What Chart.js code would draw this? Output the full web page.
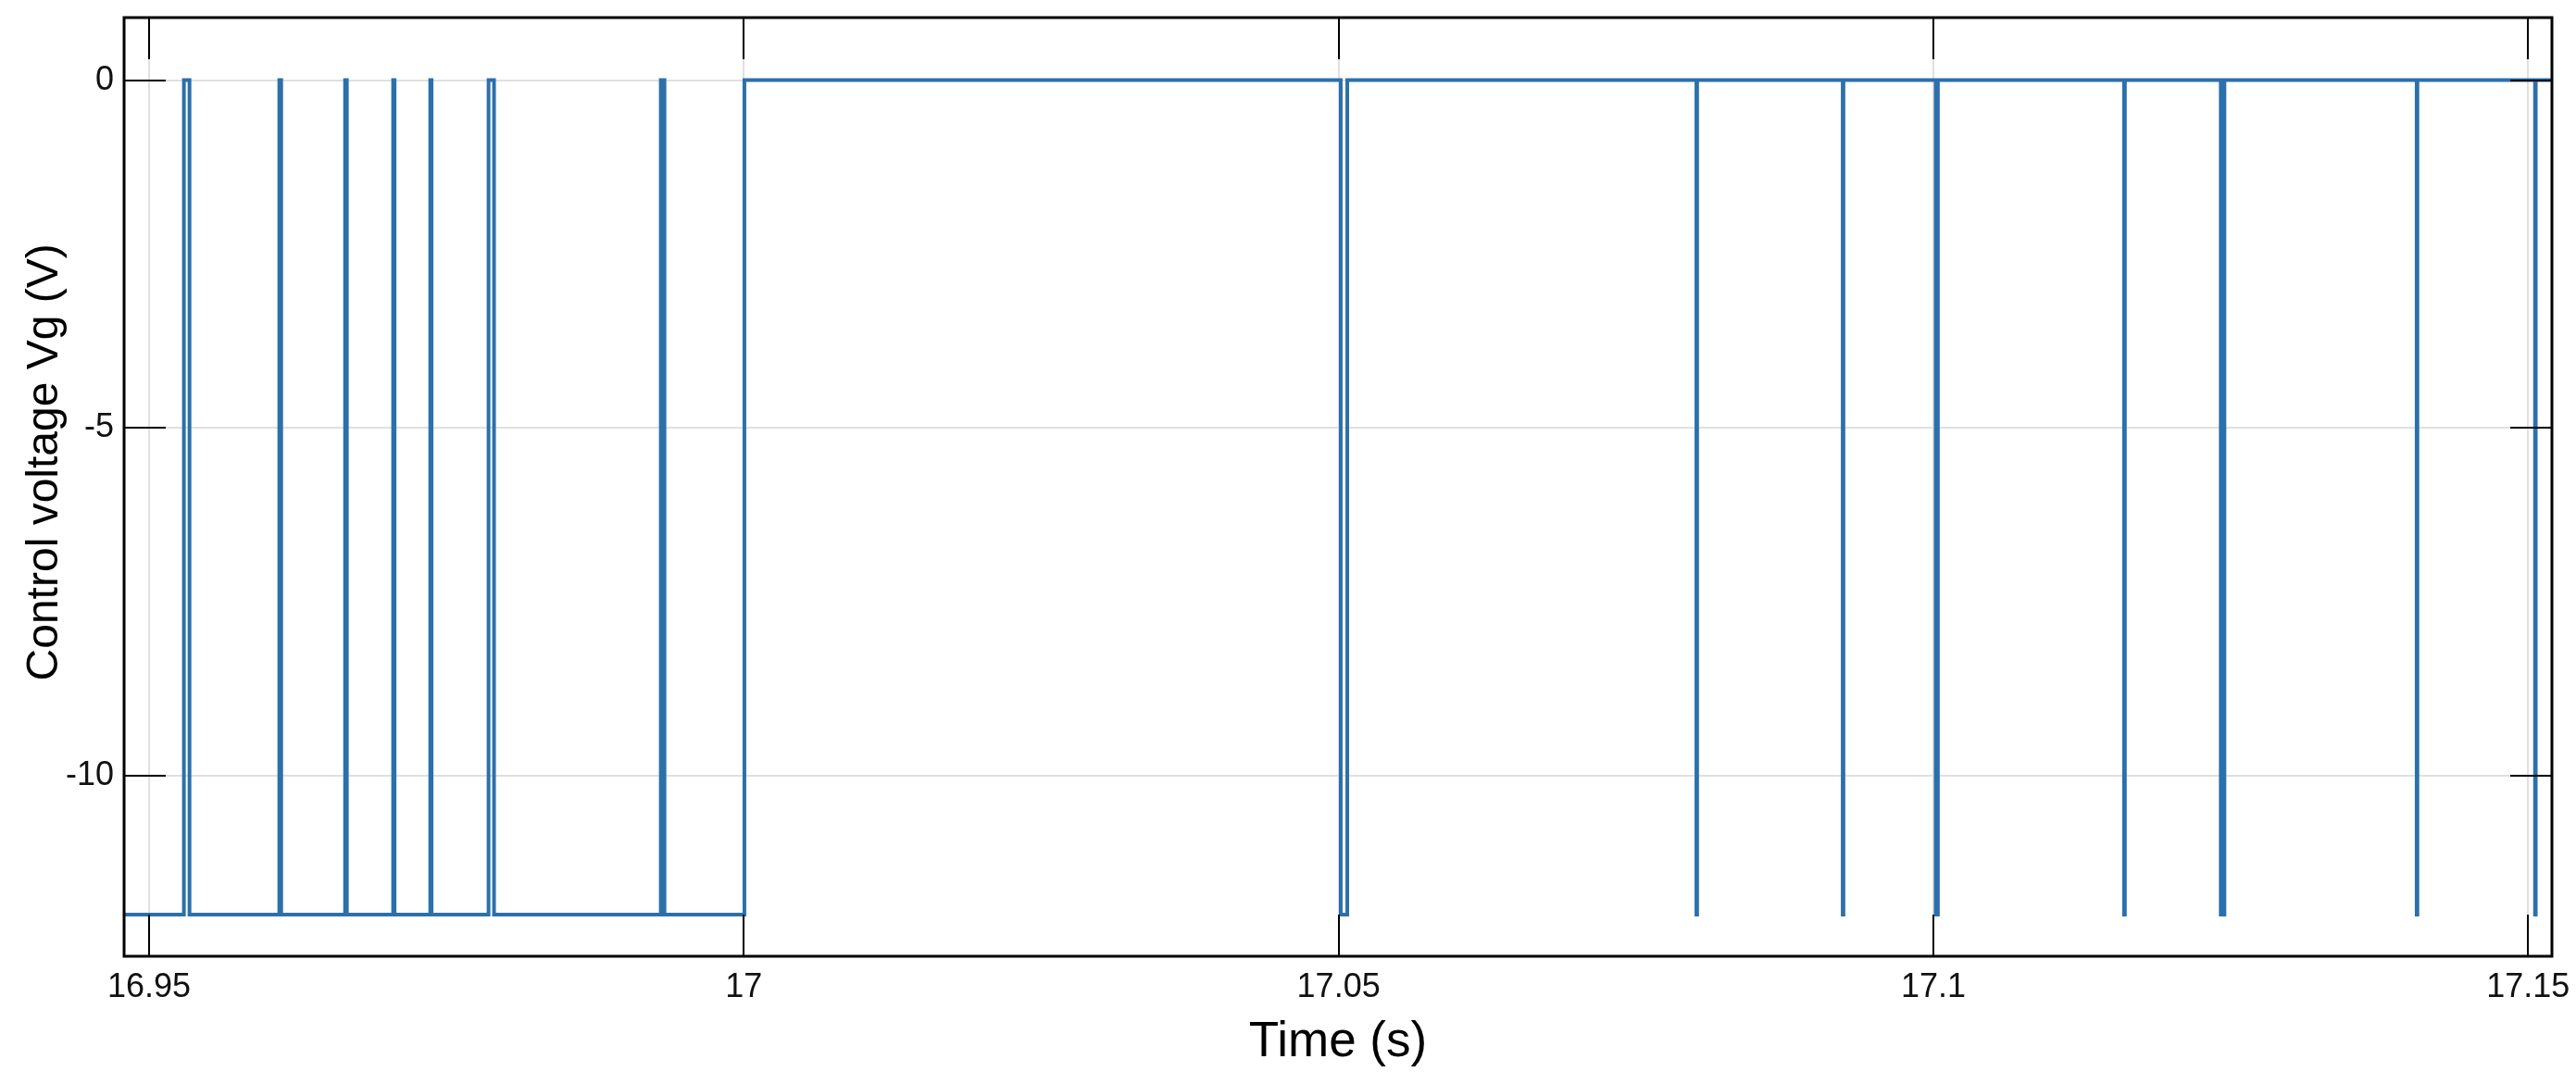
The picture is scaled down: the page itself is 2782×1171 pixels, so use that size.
<!DOCTYPE html>
<html>
<head>
<meta charset="utf-8">
<title>Control voltage Vg</title>
<script src="https://cdn.jsdelivr.net/npm/chart.js@4.4.1/dist/chart.umd.min.js"></script>
<style>
  html, body { margin: 0; padding: 0; background: #fff; }
  #chartBox { width: 2782px; height: 1171px; }
</style>
</head>
<body>
<div id="chartBox"><canvas id="chart"></canvas></div>
<script>
// Gate signal: instants (s) where Vg switches, and the level (V) it switches to
const edgeTimes = [
  16.95293, 16.95340, 16.96095, 16.96111, 16.96648, 16.96663,
  16.97052, 16.97064, 16.97364, 16.97375, 16.97854, 16.97900,
  16.99302, 16.99333, 17.00005,
  17.05018, 17.05073, 17.08008, 17.08014, 17.09238, 17.09244,
  17.10020, 17.10038, 17.11603, 17.11610, 17.12416, 17.12447,
  17.14063, 17.14069, 17.15058, 17.15064
];
const edgeLevels = [
  0, -12, 0, -12, 0, -12,
  0, -12, 0, -12, 0, -12,
  0, -12, 0,
  -12, 0, -12, 0, -12, 0,
  -12, 0, -12, 0, -12, 0,
  -12, 0, -12, 0
];
const startTime = 16.9479;
const endTime = 17.1520;
const startLevel = -12;

const xTickValues = [16.95, 17, 17.05, 17.1, 17.15];
const xTickLabels = ["16.95", "17", "17.05", "17.1", "17.15"];
const yTickValues = [-10, -5, 0];
const yTickLabels = ["-10", "-5", "0"];

const fontFamily = "'Liberation Sans', Arial, Helvetica, sans-serif";
const tickLen = 45;

// step points
const points = [{ x: startTime, y: startLevel }];
edgeTimes.forEach((t, i) => points.push({ x: t, y: edgeLevels[i] }));
points.push({ x: endTime, y: edgeLevels[edgeLevels.length - 1] });

// frame + inward tick marks on all four sides (MATLAB style)
const boxTicks = {
  id: "boxTicks",
  afterDraw(chart) {
    const { ctx, chartArea: a, scales } = chart;
    ctx.save();
    ctx.strokeStyle = "#000";
    ctx.lineWidth = 2;
    ctx.beginPath();
    xTickValues.forEach((v) => {
      const px = Math.round(scales.x.getPixelForValue(v));
      ctx.moveTo(px, a.top);
      ctx.lineTo(px, a.top + tickLen);
      ctx.moveTo(px, a.bottom);
      ctx.lineTo(px, a.bottom - tickLen);
    });
    yTickValues.forEach((v) => {
      const py = Math.round(scales.y.getPixelForValue(v));
      ctx.moveTo(a.left, py);
      ctx.lineTo(a.left + tickLen, py);
      ctx.moveTo(a.right, py);
      ctx.lineTo(a.right - tickLen, py);
    });
    ctx.stroke();
    ctx.lineWidth = 3;
    ctx.strokeRect(a.left, a.top, a.right - a.left, a.bottom - a.top);
    ctx.restore();
  },
};

// keep the plot box fixed: no extra room for edge labels
const noEdgePadding = (scale) => {
  scale.paddingTop = 0;
  scale.paddingBottom = 0;
  scale.paddingLeft = 0;
  scale.paddingRight = 0;
};

const chart = new Chart(document.getElementById("chart"), {
  type: "line",
  data: {
    datasets: [
      {
        label: "Vg",
        data: points,
        stepped: true,
        borderColor: "#2c70ab",
        borderWidth: 4,
        pointRadius: 0,
        fill: false,
      },
    ],
  },
  options: {
    responsive: true,
    maintainAspectRatio: false,
    animation: false,
    events: [],
    layout: { padding: { top: 19, right: 26, left: 0, bottom: 0 } },
    plugins: { legend: { display: false }, tooltip: { enabled: false } },
    scales: {
      x: {
        type: "linear",
        min: startTime,
        max: endTime,
        afterBuildTicks: (scale) => {
          scale.ticks = xTickValues.map((v) => ({ value: v }));
        },
        afterFit: (scale) => {
          scale.height = 138;
          noEdgePadding(scale);
        },
        grid: { color: "#e0e0e0", lineWidth: 2, drawTicks: false },
        border: { display: false },
        ticks: {
          padding: 12,
          maxRotation: 0,
          autoSkip: false,
          color: "#111",
          font: { family: fontFamily, size: 36 },
          callback: (value, index) => xTickLabels[index],
        },
        title: {
          display: true,
          text: "Time (s)",
          color: "#000",
          font: { family: fontFamily, size: 53 },
          padding: { top: 0, bottom: 13 },
        },
      },
      y: {
        type: "linear",
        min: -12.6,
        max: 0.9,
        afterBuildTicks: (scale) => {
          scale.ticks = yTickValues.map((v) => ({ value: v }));
        },
        afterFit: (scale) => {
          scale.width = 134;
          noEdgePadding(scale);
        },
        grid: { color: "#e0e0e0", lineWidth: 2, drawTicks: false },
        border: { display: false },
        ticks: {
          padding: 11,
          autoSkip: false,
          color: "#111",
          font: { family: fontFamily, size: 36 },
          callback: (value, index) => yTickLabels[index],
        },
        title: {
          display: true,
          text: "    Control voltage Vg (V)",
          color: "#000",
          font: { family: fontFamily, size: 48 },
          padding: { top: 20, bottom: 0 },
        },
      },
    },
  },
  plugins: [boxTicks],
});
</script>
</body>
</html>
